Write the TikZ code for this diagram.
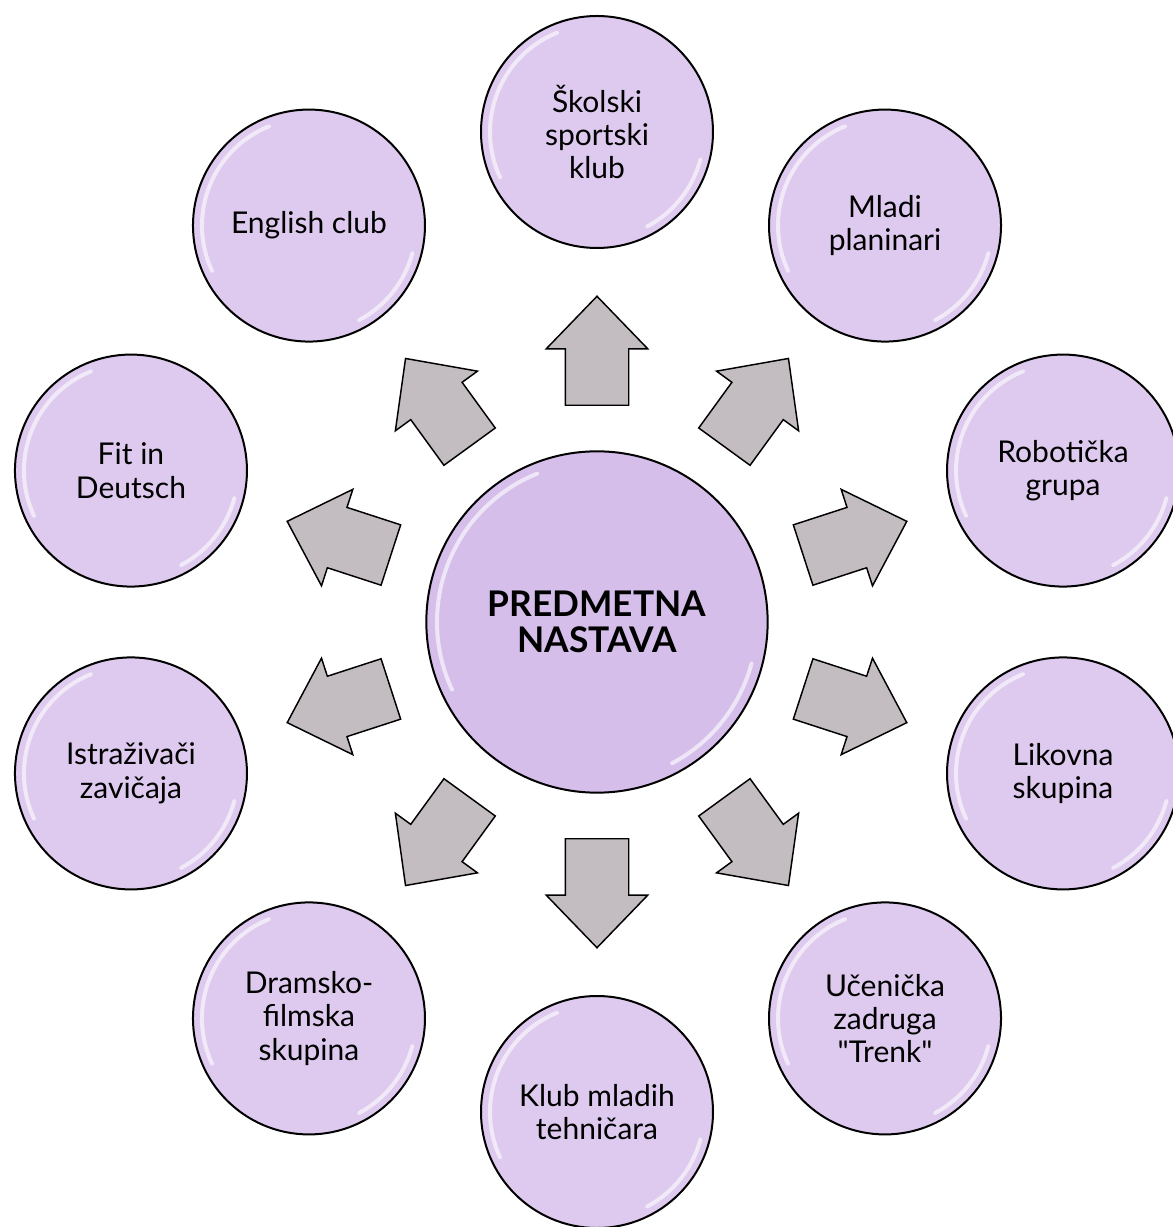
\documentclass[tikz,border=0pt]{standalone}
\usepackage{fontspec}
\setmainfont{Lato}
\usetikzlibrary{shapes.arrows}
\definecolor{clubfill}{HTML}{DDCAEE}
\definecolor{hubfill}{HTML}{D5BEEA}
\definecolor{arrowfill}{HTML}{C3BCC0}

\begin{document}
\begin{tikzpicture}[x=0.75pt,y=0.75pt,
	gloss/.style={path picture={
		\draw [white,opacity=0.6,line width=3pt,line cap=round] (path picture bounding box.center) ++(112:#1) arc [start angle=112,end angle=205,radius=#1];
		\draw [white,opacity=0.6,line width=3pt,line cap=round] (path picture bounding box.center) ++(-15:#1) arc [start angle=-15,end angle=-62,radius=#1];}},
	club/.style={circle,draw=black,line width=1.5pt,fill=clubfill,minimum size=174pt,align=center,
		font=\fontsize{22.5}{25}\selectfont,gloss=107},
	hub/.style={circle,draw=black,line width=1.5pt,fill=hubfill,minimum size=256pt,align=center,
		font=\fontsize{26.5}{27}\bfseries,gloss=160},
	bigarrow/.style={single arrow,draw=black,line width=1.1pt,fill=arrowfill,anchor=tail,
		minimum height=81.75pt,minimum width=0pt,inner xsep=0pt,inner ysep=23.25pt,
		single arrow head extend=14.25pt,single arrow tip angle=88}]
		\tikzstyle{every node}+=[inner sep=0pt]
		\useasboundingbox (-597,-605) rectangle (576,622);
		\clip (-597,-605) rectangle (576,622);
		% middle
		\node [hub] (hub) at (0,0) {PREDMETNA\\NASTAVA};
		% ring of clubs
		\node [club] (skolski) at (90:490) {Školski\\sportski\\klub};
		\node [club] (planinari) at (54:490) {Mladi\\planinari};
		\node [club] (roboticka) at (18:490) {Robotička\\grupa};
		\node [club] (likovna) at (-18:490) {Likovna\\skupina};
		\node [club] (zadruga) at (-54:490) {Učenička\\zadruga\\\textquotedbl Trenk\textquotedbl};
		\node [club] (tehnicari) at (-90:490) {Klub mladih\\tehničara};
		\node [club] (dramsko) at (-126:490) {Dramsko-\\filmska\\skupina};
		\node [club] (istrazivaci) at (-162:490) {Istraživači\\zavičaja};
		\node [club] (deutsch) at (162:490) {Fit in\\Deutsch};
		\node [club] (english) at (126:490) {English club};
		% block arrows
		\node [bigarrow,rotate=90] (a1) at (90:216) {};
		\node [bigarrow,rotate=54] (a2) at (54:216) {};
		\node [bigarrow,rotate=18] (a3) at (18:216) {};
		\node [bigarrow,rotate=-18] (a4) at (-18:216) {};
		\node [bigarrow,rotate=-54] (a5) at (-54:216) {};
		\node [bigarrow,rotate=-90] (a6) at (-90:216) {};
		\node [bigarrow,rotate=-126] (a7) at (-126:216) {};
		\node [bigarrow,rotate=-162] (a8) at (-162:216) {};
		\node [bigarrow,rotate=162] (a9) at (162:216) {};
		\node [bigarrow,rotate=126] (a10) at (126:216) {};
	\end{tikzpicture}
\end{document}
